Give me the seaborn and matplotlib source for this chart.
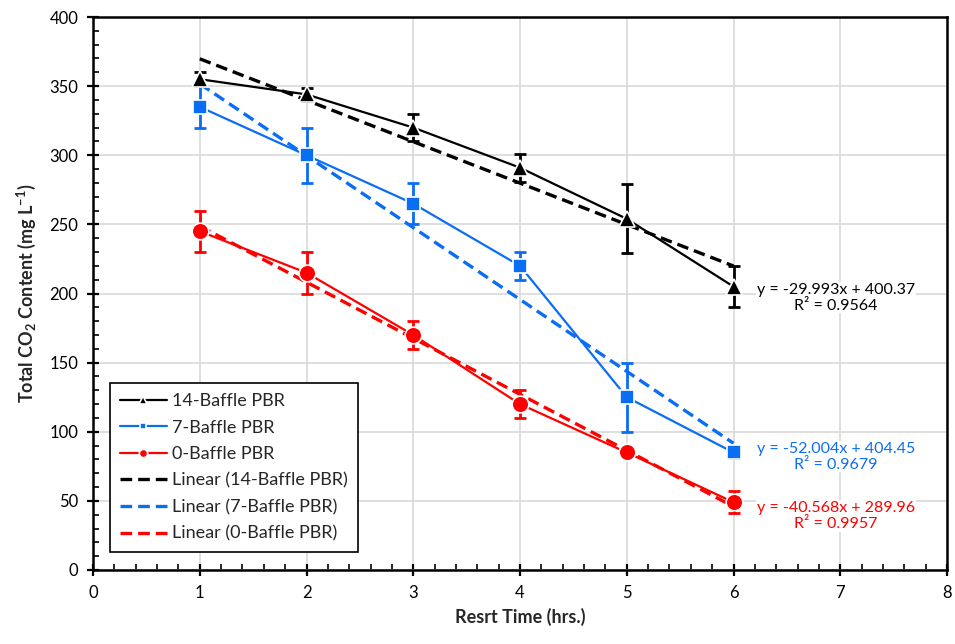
import numpy as np
import pandas as pd
import matplotlib
matplotlib.use("Agg")
import matplotlib.pyplot as plt
from matplotlib.ticker import MultipleLocator
import seaborn as sns

# ---- data ----
time_hrs = [1, 2, 3, 4, 5, 6]
baffle14 = [355, 344, 320, 291, 254, 205]
baffle14_err = [5, 5, 10, 10, 25, 15]
baffle7 = [335, 300, 265, 220, 125, 85]
baffle7_err = [15, 20, 15, 10, 25, 4]
baffle0 = [245, 215, 170, 120, 85, 49]
baffle0_err = [15, 15, 10, 10, 3, 8]
series_names = ["14-Baffle PBR", "7-Baffle PBR", "0-Baffle PBR"]
equations = ["y = -29.993x + 400.37\nR² = 0.9564",
             "y = -52.004x + 404.45\nR² = 0.9679",
             "y = -40.568x + 289.96\nR² = 0.9957"]
eq_pos_y = [197, 82, 39]
x_ticks = [0, 1, 2, 3, 4, 5, 6, 7, 8]
y_ticks = [0, 50, 100, 150, 200, 250, 300, 350, 400]

sns.set_style("white")
plt.rcParams["font.family"] = ["Lato", "DejaVu Sans"]
plt.rcParams["mathtext.fontset"] = "custom"
plt.rcParams["mathtext.rm"] = "Lato"
plt.rcParams["mathtext.bf"] = "Lato:bold"
plt.rcParams["mathtext.default"] = "regular"

colors = ["black", "#0A6EF5", "#FF0000"]
markers = ["^", "s", "o"]
msizes = [11, 10, 12]

fig = plt.figure(figsize=(9.55, 6.44), dpi=100)
ax = fig.add_axes([93 / 955, 74 / 644, 854 / 955, 553 / 644])

data_vals = [baffle14, baffle7, baffle0]
data_errs = [baffle14_err, baffle7_err, baffle0_err]

for name, vals, errs, c, m, ms in zip(series_names, data_vals, data_errs, colors, markers, msizes):
    df = pd.DataFrame({"t": time_hrs, "v": vals})
    ax.errorbar(time_hrs, vals, yerr=errs, fmt="none", ecolor=c, elinewidth=2,
                capsize=4, capthick=2, zorder=2)
    sns.lineplot(data=df, x="t", y="v", ax=ax, color=c, marker=m, markersize=ms,
                 markeredgecolor="white", markeredgewidth=1.2, linewidth=1.6,
                 label=name, zorder=4)

for name, vals, c in zip(series_names, data_vals, colors):
    df = pd.DataFrame({"t": time_hrs, "v": vals})
    sns.regplot(data=df, x="t", y="v", ax=ax, scatter=False, ci=None, truncate=True,
                color=c, line_kws={"linestyle": (0, (3.5, 1.8)), "linewidth": 2.4, "zorder": 3},
                label=f"Linear ({name})")

for eq, yy, c in zip(equations, eq_pos_y, colors):
    ax.text(6.96, yy, eq, color=c, fontsize=11.5, ha="center", va="center",
            linespacing=1.2,
            bbox=dict(facecolor="white", edgecolor="none", pad=0.5), zorder=5)

ax.set_xlim(0, 8)
ax.set_ylim(0, 400)
ax.set_xticks(x_ticks)
ax.set_yticks(y_ticks)
ax.xaxis.set_minor_locator(MultipleLocator(0.2))
ax.yaxis.set_minor_locator(MultipleLocator(10))
ax.grid(True, which="major", color="#D9D9D9", linewidth=1.2, zorder=0)
ax.set_axisbelow(True)
for s in ax.spines.values():
    s.set_color("black")
    s.set_linewidth(1.8)
ax.tick_params(axis="both", which="major", direction="inout", length=9, width=1.6,
               labelsize=12, colors="black", bottom=True, left=True, pad=6)
ax.tick_params(axis="both", which="minor", direction="in", length=4, width=1.4,
               bottom=True, left=True)

ax.set_xlabel("Resrt Time (hrs.)", fontsize=13, fontweight="bold", labelpad=5)
ax.set_ylabel(r"Total CO$_\mathbf{2}$ Content (mg L$^\mathbf{-1}$)", fontsize=13,
              fontweight="bold", labelpad=8)

handles, labels = ax.get_legend_handles_labels()
leg = ax.legend(handles, labels, loc="lower left", bbox_to_anchor=(0.02, 0.033),
                borderaxespad=0, fontsize=13, frameon=True, fancybox=False, framealpha=1,
                edgecolor="black", handlelength=2.6, borderpad=0.55, labelspacing=0.58,
                handletextpad=0.3, markerscale=0.5)
leg.get_frame().set_linewidth(1.2)

fig.savefig("out.png", dpi=100)
